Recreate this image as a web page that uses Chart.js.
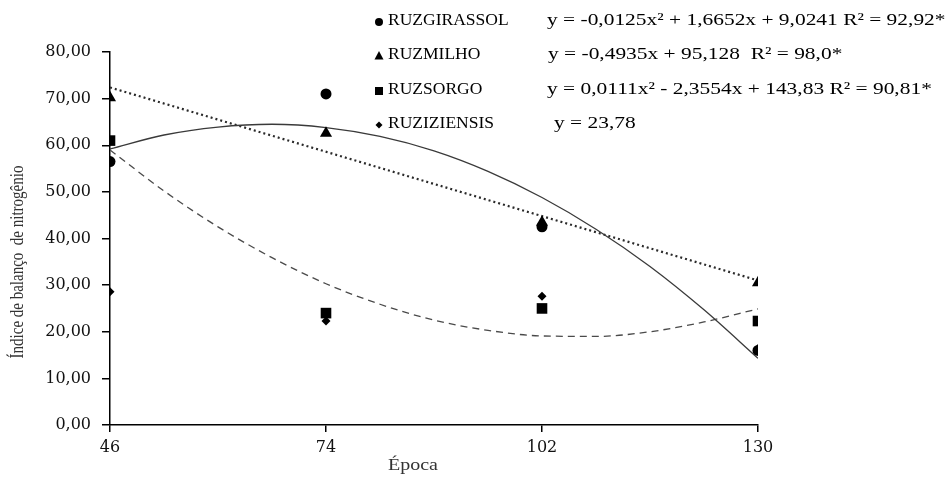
<!DOCTYPE html>
<html><head><meta charset="utf-8">
<script src="https://cdn.jsdelivr.net/npm/chart.js@4"></script>
<style>html,body{margin:0;padding:0;background:#fff}#wrap{width:950px;height:479px;position:relative}</style>
</head><body><div id="wrap"><canvas id="c"></canvas></div>
<script>
// ---- data ----
const epocas = [46, 74, 102, 130];
const xTicks = [46, 74, 102, 130];
const girassol = [56.5, 71.0, 42.5, 16.0];
const milho = [70.2, 62.6, 43.5, 30.5];
const sorgo = [61.0, 24.0, 25.0, 22.3];
const ruziziensis = [28.6, 22.3, 27.6, 16.4];
// fitted trend curves as they appear in the picture
const trendX = [46, 53, 60, 67, 74, 81, 88, 95, 102, 109, 116, 123, 130];
const trendGirassol = [59.2, 62.2, 63.9, 64.5, 63.8, 61.9, 58.8, 54.4, 48.8, 42.0, 34.0, 24.7, 14.3];
const trendMilhoX = [46, 130];
const trendMilho = [72.4, 31.0];
const trendSorgo = [59.0, 50.2, 42.5, 35.9, 30.3, 25.9, 22.5, 20.3, 19.1, 19.0, 20.0, 22.1, 24.9];
const seriesNames = ['RUZGIRASSOL', 'RUZMILHO', 'RUZSORGO', 'RUZIZIENSIS'];
const equations = [
  'y = -0,0125x² + 1,6652x + 9,0241 R² = 92,92*',
  'y = -0,4935x + 95,128  R² = 98,0*',
  'y = 0,0111x² - 2,3554x + 143,83 R² = 90,81*',
  'y = 23,78'
];
const yTitle = 'Índice de balanço  de nitrogênio';
const xTitle = 'Época';

const pts = (xs, ys) => xs.map((x, i) => ({x: x, y: ys[i]}));
const SERIF = '"Liberation Serif", "Times New Roman", serif';
const TICKFONT = '"DejaVu Serif", serif';

function drawMarker(ctx, kind, x, y, r) {
  ctx.beginPath();
  if (kind === 'circle') { ctx.arc(x, y, r, 0, Math.PI * 2); }
  else if (kind === 'triangle') { ctx.moveTo(x, y - r); ctx.lineTo(x + r * 0.9, y + r * 0.7); ctx.lineTo(x - r * 0.9, y + r * 0.7); ctx.closePath(); }
  else if (kind === 'rect') { ctx.rect(x - r, y - r, 2 * r, 2 * r); }
  else { ctx.moveTo(x - r, y); ctx.lineTo(x, y - r); ctx.lineTo(x + r, y); ctx.lineTo(x, y + r); ctx.closePath(); }
  ctx.fill();
}

function stretchedText(ctx, text, x, y, sx, sy) {
  ctx.save();
  ctx.translate(x, y);
  ctx.scale(sx, sy || 1);
  ctx.fillText(text, 0, 0);
  ctx.restore();
}

const annotations = {
  id: 'annotations',
  afterDraw(chart) {
    const ctx = chart.ctx;
    ctx.save();
    ctx.fillStyle = '#000';
    ctx.textBaseline = 'middle';
    ctx.textAlign = 'left';
    ctx.font = '17px ' + SERIF;
    const rowsY = [21, 55, 90, 124];
    const kinds = ['circle', 'triangle', 'rect', 'diamond'];
    const sizes = [4, 5, 4, 3.5];
    const eqX = [547, 548, 547, 554];
    for (let i = 0; i < seriesNames.length; i++) {
      drawMarker(ctx, kinds[i], 379, rowsY[i] + 1, sizes[i]);
      stretchedText(ctx, seriesNames[i], 388, rowsY[i], 1.03);
      stretchedText(ctx, equations[i], eqX[i], rowsY[i], 1.26);
    }
    // axis titles
    ctx.fillStyle = '#333';
    ctx.textAlign = 'center';
    ctx.font = '16px ' + SERIF;
    stretchedText(ctx, xTitle, 413, 466, 1.25);
    ctx.save();
    ctx.translate(18, 262);
    ctx.rotate(-Math.PI / 2);
    ctx.scale(1, 1.25);
    ctx.font = '15px ' + SERIF;
    ctx.fillText(yTitle, 0, 0);
    ctx.restore();
    ctx.restore();
  }
};

const pointDs = (label, ys, style, r) => ({
  type: 'scatter', label: label, data: pts(epocas, ys),
  pointStyle: style, pointRadius: r, pointHoverRadius: r,
  backgroundColor: '#000', borderColor: '#000', borderWidth: 0, showLine: false
});
const lineDs = (label, xs, ys, color, width, dash) => ({
  type: 'line', label: label, data: pts(xs, ys),
  borderColor: color, borderWidth: width, borderDash: dash,
  pointRadius: 0, fill: false, cubicInterpolationMode: 'monotone'
});

new Chart(document.getElementById('c'), {
  data: {
    datasets: [
      pointDs(seriesNames[0], girassol, 'circle', 5.5),
      pointDs(seriesNames[1], milho, 'triangle', 7),
      pointDs(seriesNames[2], sorgo, 'rect', 7.5),
      pointDs(seriesNames[3], ruziziensis, 'rectRot', 4.5),
      lineDs('Tendência RUZGIRASSOL', trendX, trendGirassol, '#3a3a3a', 1.3, []),
      lineDs('Tendência RUZMILHO', trendMilhoX, trendMilho, '#2a2a2a', 2.2, [2, 3]),
      lineDs('Tendência RUZSORGO', trendX, trendSorgo, '#4a4a4a', 1.3, [7, 5])
    ]
  },
  options: {
    responsive: true, maintainAspectRatio: false, animation: false,
    layout: {padding: {top: 52, right: 192, left: 0, bottom: 0}},
    plugins: {legend: {display: false}, tooltip: {enabled: false}},
    scales: {
      x: {
        type: 'linear', min: 46, max: 130,
        afterBuildTicks: s => { s.ticks = xTicks.map(v => ({value: v})); },
        afterFit: s => { s.height = 54; },
        grid: {drawOnChartArea: false, drawTicks: true, tickLength: 7, color: '#000', lineWidth: 1.5},
        border: {display: true, color: '#000', width: 1.5},
        ticks: {color: '#111', font: {family: TICKFONT, size: 16}, padding: 6, maxRotation: 0}
      },
      y: {
        type: 'linear', min: 0, max: 80,
        ticks: {stepSize: 10, color: '#111', font: {family: TICKFONT, size: 16}, padding: 11,
          callback: v => v.toFixed(2).replace('.', ',')},
        afterFit: s => { s.width = 110; },
        grid: {drawOnChartArea: false, drawTicks: true, tickLength: 8, color: '#000', lineWidth: 1.5},
        border: {display: true, color: '#000', width: 1.5}
      }
    }
  },
  plugins: [annotations]
});
</script>
</body></html>
